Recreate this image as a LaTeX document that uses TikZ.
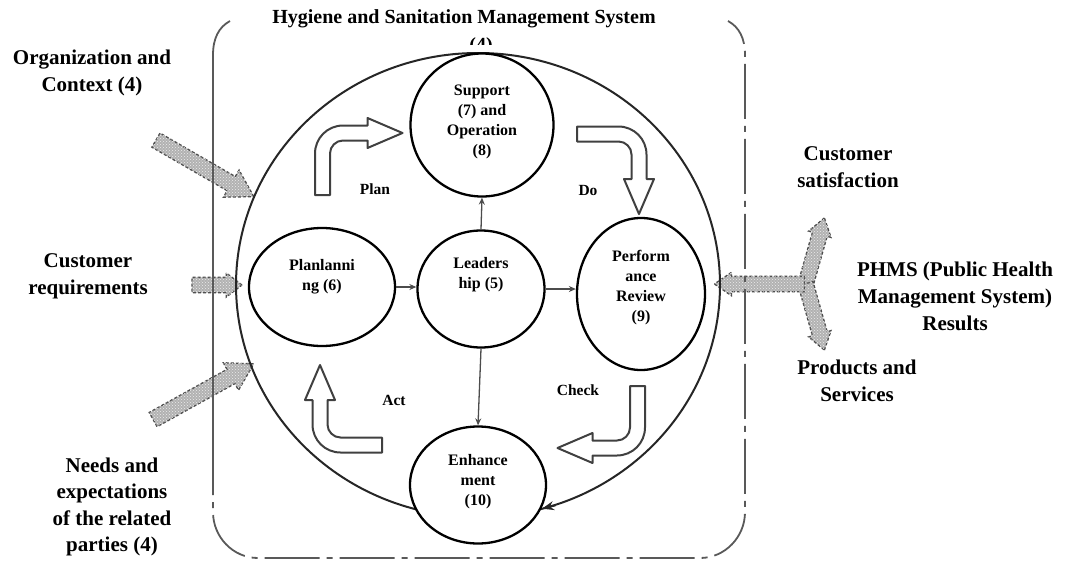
\documentclass[tikz,border=0pt]{standalone}
\usepackage{fontspec}
\setmainfont{Liberation Serif}
\usepackage{tikz}
\usetikzlibrary{arrows.meta}
\usetikzlibrary{shapes.geometric}
\usetikzlibrary{shapes.arrows}
\usetikzlibrary{patterns}
\tikzset{phase/.style = {draw, ellipse, line width=2.3pt, fill=white, inner sep=0}}
\tikzset{phasetext/.style = {font=\bfseries\fontsize{16}{20}\selectfont, align=center}}
\tikzset{steptext/.style = {font=\bfseries\fontsize{15.5}{18}\selectfont}}
\tikzset{outtext/.style = {font=\bfseries\fontsize{21}{27}\selectfont, align=center}}
\tikzset{link/.style = {draw=black!70, line width=1.3pt, -{Stealth[length=7pt, width=6pt]}}}
\tikzset{inarrow/.style = {single arrow, inner xsep=0, draw=black!70, densely dashed, line width=1.3pt,
                           fill=gray!60, postaction={pattern=crosshatch dots, pattern color=gray!15}}}
\tikzset{blockarrow/.style = {draw=black!75, line width=2pt, fill=white, line join=round}}
\tikzset{frame/.style = {draw=black!65, line width=1.8pt}}
\tikzset{cycarrow/.pic = {
    \draw [blockarrow] (-7.5, 0) -- (-7.5, -41.5)
      .. controls (-7.5, -57) and (5, -69.5) .. (20.5, -69.5)
      -- (45, -69.5) -- (45, -77) -- (80, -62) -- (45, -47) -- (45, -54.5) -- (20.5, -54.5)
      .. controls (13.4, -54.5) and (7.5, -48.6) .. (7.5, -41.5) -- (7.5, 0) -- cycle;
  }}

\begin{document}
\begin{tikzpicture}[x=1pt, y=-1pt]
  \useasboundingbox (0, 0) rectangle (1065, 563);

  % inputs and outputs
  \node [inarrow, inner ysep=7.5, minimum height=113, single arrow head extend=7.5,
         single arrow tip angle=62, rotate=-30] (ctxarrow) at (199, 165) {};
  \node [inarrow, inner ysep=7, minimum height=50, single arrow head extend=4.5,
         single arrow tip angle=75] (reqarrow) at (212, 285) {};
  \node [inarrow, inner ysep=7.5, minimum height=115, single arrow head extend=7.5,
         single arrow tip angle=62, rotate=29] (needsarrow) at (197.5, 395) {};
  \node [inarrow, inner ysep=7, minimum height=69, single arrow head extend=4,
         single arrow tip angle=69, rotate=74.2] (satarrow) at (813.5, 256.5) {};
  \node [inarrow, inner ysep=7, minimum height=69, single arrow head extend=4,
         single arrow tip angle=69, rotate=-74.2] (prodarrow) at (813.5, 311.5) {};
  \node [inarrow, inner ysep=7, minimum height=90, single arrow head extend=4,
         single arrow tip angle=69, rotate=180] (phmsarrow) at (765, 284) {};

  % system frame
  \draw [frame] (230, 21) .. controls (219, 27) and (213, 38) .. (213, 55) -- (213, 440);
  \draw [frame, dash pattern=on 55pt off 7pt on 6pt off 7pt]
    (213, 440) -- (213, 512) .. controls (213, 537) and (233, 558) .. (258, 558)
    -- (700, 558) .. controls (725, 558) and (745, 537) .. (745, 512)
    -- (745, 55) .. controls (745, 38) and (739, 27) .. (728, 21);

  % the loop
  \draw [line width=2pt, black!85] (478, 285) ellipse [x radius=242, y radius=232];
  \coordinate (looptip) at (542, 508.7);
  \draw [line width=2pt, black!85, -{Stealth[length=12pt, width=9pt]}] (555.5, 505.2) -- (looptip);

  \pic at (322.5, 195) {cycarrow};
  \pic [rotate=-90] at (577, 134) {cycarrow};
  \pic [rotate=180] at (637.5, 386) {cycarrow};
  \pic [rotate=90] at (382, 445) {cycarrow};

  \node [phase, minimum width=143, minimum height=143,
         label={[phasetext, yshift=3pt]center:Support\\(7) and\\Operation\\(8)}] (support) at (482, 125) {};
  \node [phase, minimum width=127, minimum height=117,
         label={[phasetext, yshift=14pt]center:Leaders\\hip (5)}] (leader) at (481, 289) {};
  \node [phase, minimum width=146, minimum height=118,
         label={[phasetext, yshift=10pt]center:Planlanni\\ng (6)}] (plan) at (322, 287) {};
  \node [phase, minimum width=128, minimum height=152,
         label={[phasetext, yshift=6pt]center:Perform\\ance\\Review\\(9)}] (perf) at (641, 294) {};
  \node [phase, minimum width=136, minimum height=117,
         label={[phasetext, yshift=3pt]center:Enhance\\ment\\(10)}] (enh) at (478, 485) {};

  \draw [link] (plan.east) -- (plan.east -| leader.west);
  \draw [link] (leader.east) -- (leader.east -| perf.west);
  \draw [link] (leader.north) -- (support.south);
  \draw [link] (leader.south) -- (enh.north);

  \node [steptext] (plantxt) at (375, 189) {Plan};
  \node [steptext] (dotxt) at (588, 190) {Do};
  \node [steptext] (acttxt) at (394, 400) {Act};
  \node [steptext] (checktxt) at (578, 390) {Check};

  % labels
  \node [outtext, font=\bfseries\fontsize{20}{24}\selectfont] (titlelbl) at (464, 19)
    {Hygiene and Sanitation Management System};
  \begin{scope}
    \clip (440, 30) rectangle (520, 44);
    \node [outtext, font=\bfseries\fontsize{20}{24}\selectfont] (titlenum) at (481, 47) {(4)};
  \end{scope}
  \node [outtext] (ctxlbl) at (92, 73) {Organization and\\Context (4)};
  \node [outtext] (reqlbl) at (88, 276) {Customer\\requirements};
  \node [outtext, font=\bfseries\fontsize{21}{26.5}\selectfont] (needslbl) at (112, 507)
    {Needs and\\expectations\\of the related\\parties (4)};
  \node [outtext] (satlbl) at (848, 167) {Customer\\satisfaction};
  \node [outtext] (phmslbl) at (955, 296) {PHMS (Public Health\\Management System)\\Results};
  \node [outtext] (prodlbl) at (857, 381) {Products and\\Services};
\end{tikzpicture}
\end{document}
